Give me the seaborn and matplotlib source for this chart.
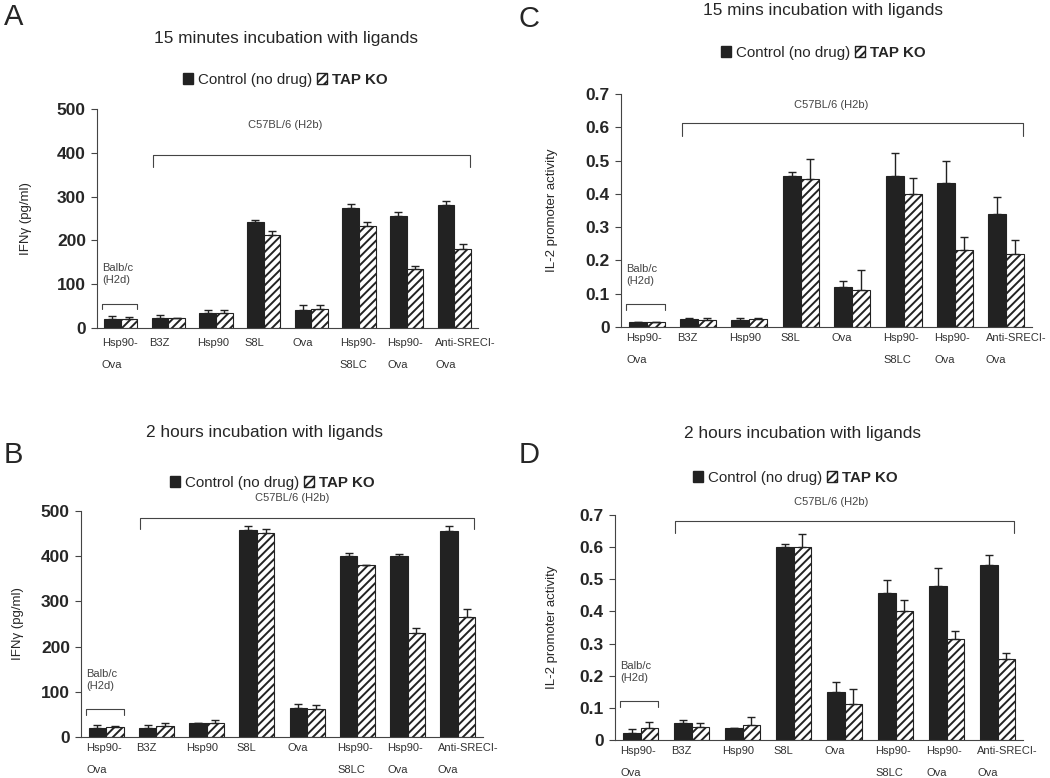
import numpy as np
import pandas as pd
import matplotlib
matplotlib.use("Agg")
import matplotlib.pyplot as plt
from matplotlib.patches import Patch
import seaborn as sns

# categories (keys are unique, labels repeat)
group_keys = ["balb_hsp90_ova", "b3z", "hsp90", "s8l", "ova", "hsp90_s8lc", "hsp90_ova", "anti_sreci_ova"]
group_labels = ["Hsp90-\nOva", "B3Z", "Hsp90", "S8L", "Ova", "Hsp90-\nS8LC", "Hsp90-\nOva", "Anti-SRECI-\nOva"]
series = ["Control (no drug)", "TAP KO"]

# A: IFNg, 15 minutes
a_control = [21, 23, 35, 243, 42, 275, 255, 280]
a_control_err = [7, 7, 5, 4, 10, 9, 9, 10]
a_tapko = [21, 23, 34, 212, 44, 234, 135, 181]
a_tapko_err = [3, 0, 6, 10, 8, 9, 6, 10]

# B: IFNg, 2 hours
b_control = [20, 20, 31, 458, 65, 400, 400, 456]
b_control_err = [6, 6, 1, 8, 7, 6, 4, 11]
b_tapko = [23, 25, 31, 452, 62, 380, 230, 265]
b_tapko_err = [1, 6, 6, 9, 9, 1, 11, 18]

# C: IL-2, 15 mins
c_control = [0.014, 0.024, 0.021, 0.455, 0.12, 0.455, 0.432, 0.34]
c_control_err = [0.002, 0.003, 0.006, 0.01, 0.019, 0.067, 0.068, 0.052]
c_tapko = [0.014, 0.022, 0.023, 0.446, 0.11, 0.40, 0.231, 0.22]
c_tapko_err = [0.002, 0.005, 0.004, 0.059, 0.06, 0.047, 0.038, 0.04]

# D: IL-2, 2 hours
d_control = [0.023, 0.052, 0.036, 0.60, 0.15, 0.457, 0.479, 0.546]
d_control_err = [0.012, 0.01, 0.0, 0.009, 0.029, 0.041, 0.056, 0.031]
d_tapko = [0.036, 0.041, 0.046, 0.60, 0.111, 0.40, 0.313, 0.252]
d_tapko_err = [0.02, 0.011, 0.025, 0.041, 0.049, 0.035, 0.027, 0.018]

ifn_ticks = [0, 100, 200, 300, 400, 500]
ifn_ticklabels = ["0", "100", "200", "300", "400", "500"]
il2_ticks = [0, 0.1, 0.2, 0.3, 0.4, 0.5, 0.6, 0.7]
il2_ticklabels = ["0", "0.1", "0.2", "0.3", "0.4", "0.5", "0.6", "0.7"]

W, H = 1050, 778
DARK = "#222222"
GREY = "#444444"

sns.set_style("white")
plt.rcParams["font.family"] = ["Liberation Sans", "DejaVu Sans"]
plt.rcParams["hatch.linewidth"] = 1.4
plt.rcParams["hatch.color"] = DARK

fig = plt.figure(figsize=(W / 100, H / 100), dpi=100)


def px_axes(left, right, top, bottom):
    return fig.add_axes([left / W, 1 - bottom / H, (right - left) / W, (bottom - top) / H])


# layout per panel, in pixels of the reference
panels = [
    dict(letter="A", box=(97, 478, 109, 328), letter_xy=(4, 25), ylabel_dx=65, xpad=7,
         title="15 minutes incubation with ligands", title_xy=(286, 39), legend_xy=(285, 80),
         control=a_control, control_err=a_control_err, tapko=a_tapko, tapko_err=a_tapko_err,
         ylabel="IFNγ (pg/ml)", ylim=500, ticks=ifn_ticks, ticklabels=ifn_ticklabels,
         balb=(55, 43), balb_text=123, c57=(395, 368), c57_text=(3.45, 464)),
    dict(letter="B", box=(81, 483, 511, 737), letter_xy=(4, 463), ylabel_dx=57, xpad=4,
         title="2 hours incubation with ligands", title_xy=(264, 432), legend_xy=(272, 483),
         control=b_control, control_err=b_control_err, tapko=b_tapko, tapko_err=b_tapko_err,
         ylabel="IFNγ (pg/ml)", ylim=500, ticks=ifn_ticks, ticklabels=ifn_ticklabels,
         balb=(61, 48), balb_text=127, c57=(485, 460), c57_text=(3.7, 528)),
    dict(letter="C", box=(621, 1032, 94, 327), letter_xy=(519, 27), ylabel_dx=63, xpad=4,
         title="15 mins incubation with ligands", title_xy=(823, 11), legend_xy=(823, 53),
         control=c_control, control_err=c_control_err, tapko=c_tapko, tapko_err=c_tapko_err,
         ylabel="IL-2 promoter activity", ylim=0.7, ticks=il2_ticks, ticklabels=il2_ticklabels,
         balb=(0.07, 0.052), balb_text=0.157, c57=(0.613, 0.575), c57_text=(3.6, 0.668)),
    dict(letter="D", box=(615, 1023, 515, 740), letter_xy=(519, 463), ylabel_dx=57, xpad=4,
         title="2 hours incubation with ligands", title_xy=(802, 434), legend_xy=(795, 478),
         control=d_control, control_err=d_control_err, tapko=d_tapko, tapko_err=d_tapko_err,
         ylabel="IL-2 promoter activity", ylim=0.7, ticks=il2_ticks, ticklabels=il2_ticklabels,
         balb=(0.121, 0.103), balb_text=0.212, c57=(0.68, 0.644), c57_text=(3.73, 0.739)),
]

for p in panels:
    left, right, top, bottom = p["box"]
    ax = px_axes(left, right, top, bottom)

    df = pd.DataFrame({
        "group": group_keys * 2,
        "treatment": [series[0]] * 8 + [series[1]] * 8,
        "value": p["control"] + p["tapko"],
    })
    sns.barplot(data=df, x="group", y="value", hue="treatment", order=group_keys,
                hue_order=series, palette=[DARK, "white"], saturation=1, width=0.7,
                edgecolor=DARK, linewidth=0.8, errorbar=None, legend=False, ax=ax)

    errs = [p["control_err"], p["tapko_err"]]
    bar_sets = list(ax.containers)
    for k, cont in enumerate(bar_sets):
        xs = [b.get_x() + b.get_width() / 2 for b in cont]
        hs = [b.get_height() for b in cont]
        if k == 1:
            for b in cont:
                b.set_hatch("////")
        ax.errorbar(xs, hs, yerr=[np.zeros(len(hs)), errs[k]], fmt="none",
                    ecolor=DARK, elinewidth=1, capsize=3, capthick=1, zorder=3)

    ax.set_xlim(-0.5, 7.5)
    ax.set_ylim(0, p["ylim"])
    ax.set_yticks(p["ticks"])
    ax.set_yticklabels(p["ticklabels"], fontsize=12.5, fontweight="bold")
    ax.set_xticks(np.arange(8) - 0.4)
    ax.set_xticklabels(group_labels, ha="left", multialignment="left",
                       fontsize=8, color="#333333", linespacing=2.5)
    ax.tick_params(axis="x", length=0, pad=p["xpad"])
    ax.tick_params(axis="y", length=4, width=0.8, color=GREY, pad=4, left=True)
    ax.set_xlabel("")
    ax.set_ylabel(p["ylabel"], fontsize=9.5)
    ax.yaxis.set_label_coords(-p["ylabel_dx"] / (right - left), 0.5)
    for s in ["top", "right"]:
        ax.spines[s].set_visible(False)
    for s in ["left", "bottom"]:
        ax.spines[s].set_color(GREY)
        ax.spines[s].set_linewidth(0.8)

    # group brackets
    yb, yt = p["balb"]
    ax.plot([-0.4, -0.4, 0.35, 0.35], [yt, yb, yb, yt], color=GREY, lw=0.8, clip_on=False)
    ax.text(-0.4, p["balb_text"], "Balb/c\n(H2d)", ha="left", va="center",
            fontsize=8, color=GREY, linespacing=1.25)
    yb, yt = p["c57"]
    ax.plot([0.68, 0.68, 7.33, 7.33], [yt, yb, yb, yt], color=GREY, lw=0.8, clip_on=False)
    tx, ty = p["c57_text"]
    ax.text(tx, ty, "C57BL/6 (H2b)", ha="center", va="center", fontsize=8,
            color=GREY, clip_on=False)

    # title, legend, letter
    tx, ty = p["title_xy"]
    fig.text(tx / W, 1 - ty / H, p["title"], ha="center", va="center", fontsize=12.4)
    handles = [Patch(facecolor=DARK, edgecolor=DARK),
               Patch(facecolor="white", edgecolor=DARK, hatch="////")]
    lx, ly = p["legend_xy"]
    leg = fig.legend(handles, series, loc="center", bbox_to_anchor=(lx / W, 1 - ly / H),
                     ncol=2, frameon=False, fontsize=10.9, handlelength=0.7,
                     handleheight=0.7, handletextpad=0.3, columnspacing=0.3,
                     borderpad=0, borderaxespad=0)
    leg.get_texts()[1].set_fontweight("bold")
    lx, ly = p["letter_xy"]
    fig.text(lx / W, 1 - ly / H, p["letter"], ha="left", va="baseline", fontsize=21)

fig.savefig("out.png", dpi=100)
